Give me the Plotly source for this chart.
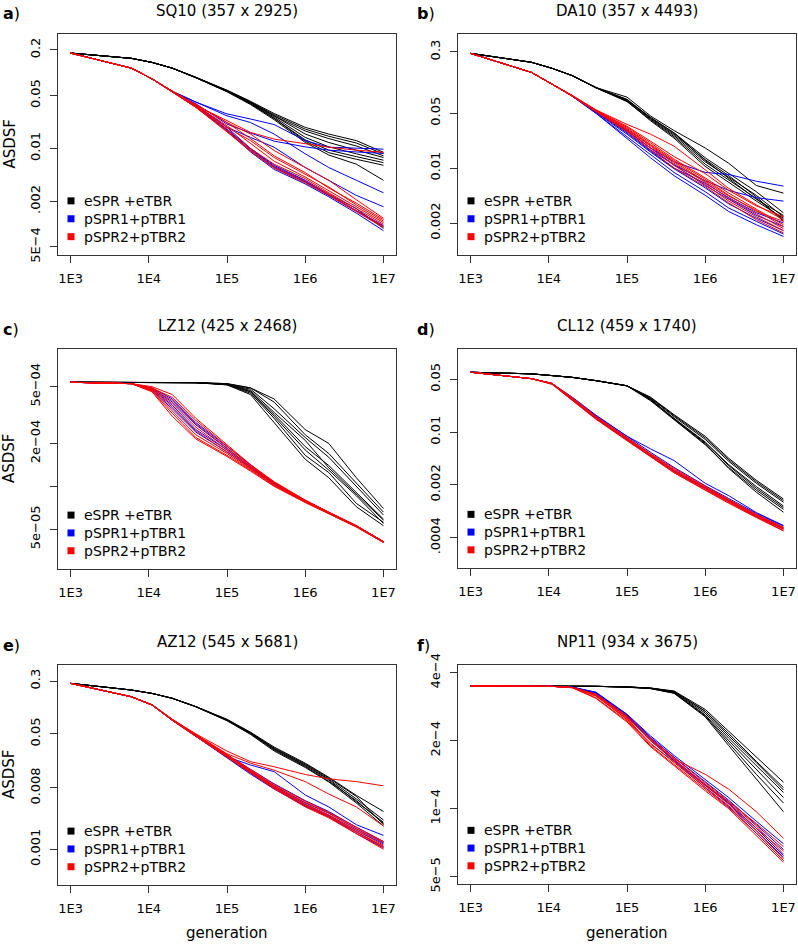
import plotly.graph_objects as go

# ---------------- data ----------------
GEN = [1e3, 6e3, 1.1e4, 2e4, 4e4, 1e5, 2e5, 4e5, 1e6, 2e6, 4.5e6, 1e7]
X_TICKS = [1e3, 1e4, 1e5, 1e6, 1e7]
X_TICKTEXT = ["1E3", "1E4", "1E5", "1E6", "1E7"]

SERIES_NAMES = ["eSPR +eTBR", "pSPR1+pTBR1", "pSPR2+pTBR2"]
SERIES_COLORS = ["#000000", "#0000FF", "#FF0000"]

PANEL_LABELS = ["a", "b", "c", "d", "e", "f"]
PANEL_TITLES = ["SQ10 (357 x 2925)", "DA10 (357 x 4493)", "LZ12 (425 x 2468)",
                "CL12 (459 x 1740)", "AZ12 (545 x 5681)", "NP11 (934 x 3675)"]

# ---- a) SQ10
SQ10_E = [
    [0.182, 0.155, 0.137, 0.115, 0.087, 0.059, 0.042, 0.029, 0.019, 0.0155, 0.0127, 0.0089],
    [0.182, 0.155, 0.137, 0.115, 0.087, 0.058, 0.041, 0.028, 0.018, 0.0145, 0.0118, 0.0085],
    [0.182, 0.155, 0.137, 0.115, 0.087, 0.058, 0.041, 0.027, 0.017, 0.0135, 0.0108, 0.0080],
    [0.182, 0.155, 0.137, 0.115, 0.087, 0.058, 0.040, 0.027, 0.0155, 0.0120, 0.0095, 0.0076],
    [0.182, 0.155, 0.137, 0.115, 0.086, 0.057, 0.040, 0.026, 0.0140, 0.0105, 0.0085, 0.0070],
    [0.182, 0.155, 0.137, 0.115, 0.086, 0.057, 0.039, 0.025, 0.0130, 0.0095, 0.0078, 0.0065],
    [0.182, 0.155, 0.137, 0.115, 0.086, 0.057, 0.039, 0.025, 0.0125, 0.0088, 0.0072, 0.0060],
    [0.182, 0.155, 0.137, 0.115, 0.086, 0.056, 0.038, 0.024, 0.0120, 0.0082, 0.0062, 0.0038],
]
SQ10_P1 = [
    [0.182, 0.115, 0.083, 0.057, 0.041, 0.0286, 0.0245, 0.0207, 0.0127, 0.0104, 0.0101, 0.0098],
    [0.182, 0.115, 0.083, 0.057, 0.041, 0.027, 0.022, 0.0155, 0.0085, 0.0056, 0.0038, 0.0026],
    [0.182, 0.115, 0.083, 0.057, 0.038, 0.019, 0.014, 0.0104, 0.0056, 0.0038, 0.0024, 0.0017],
    [0.182, 0.115, 0.083, 0.057, 0.039, 0.021, 0.016, 0.0125, 0.0105, 0.0095, 0.0090, 0.0086],
    [0.182, 0.115, 0.083, 0.056, 0.036, 0.0176, 0.0094, 0.0056, 0.0036, 0.0024, 0.0015, 0.00096],
    [0.182, 0.115, 0.083, 0.056, 0.037, 0.019, 0.0100, 0.0060, 0.0038, 0.0025, 0.0016, 0.00088],
    [0.182, 0.115, 0.083, 0.056, 0.035, 0.017, 0.0090, 0.0053, 0.0034, 0.0023, 0.0014, 0.00082],
    [0.182, 0.115, 0.083, 0.056, 0.036, 0.018, 0.0098, 0.0058, 0.0037, 0.0024, 0.0015, 0.00092],
]
SQ10_P2 = [
    [0.182, 0.115, 0.083, 0.057, 0.037, 0.0233, 0.0163, 0.0133, 0.0115, 0.0104, 0.0095, 0.0089],
    [0.182, 0.115, 0.083, 0.057, 0.038, 0.022, 0.0155, 0.0094, 0.0056, 0.0038, 0.0021, 0.0012],
    [0.182, 0.115, 0.083, 0.057, 0.036, 0.019, 0.0127, 0.0076, 0.0046, 0.0031, 0.0018, 0.0011],
    [0.182, 0.115, 0.083, 0.056, 0.036, 0.018, 0.0100, 0.0062, 0.0040, 0.0026, 0.0016, 0.0010],
    [0.182, 0.115, 0.083, 0.056, 0.035, 0.017, 0.0095, 0.0057, 0.0037, 0.0025, 0.0015, 0.00094],
    [0.182, 0.115, 0.083, 0.057, 0.037, 0.020, 0.0115, 0.0068, 0.0042, 0.0028, 0.0017, 0.00105],
    [0.182, 0.115, 0.083, 0.056, 0.035, 0.0165, 0.0092, 0.0055, 0.0035, 0.0024, 0.00145, 0.00090],
    [0.182, 0.115, 0.083, 0.057, 0.038, 0.022, 0.0135, 0.0080, 0.0048, 0.0030, 0.0019, 0.00115],
]
SQ10_YTICKS = [0.2, 0.05, 0.01, 0.002, 0.0005]
SQ10_YTEXT = ["0.2", "0.05", "0.01", ".002", "5E\u22124"]

# ---- b) DA10
DA10_E = [
    [0.288, 0.222, 0.186, 0.150, 0.106, 0.080, 0.046, 0.030, 0.018, 0.0115, 0.0060, 0.0048],
    [0.288, 0.222, 0.186, 0.150, 0.106, 0.075, 0.044, 0.028, 0.0135, 0.0085, 0.0050, 0.0027],
    [0.288, 0.222, 0.186, 0.150, 0.105, 0.072, 0.042, 0.026, 0.0120, 0.0076, 0.0045, 0.0024],
    [0.288, 0.222, 0.186, 0.150, 0.105, 0.070, 0.041, 0.025, 0.0112, 0.0070, 0.0041, 0.0022],
    [0.288, 0.222, 0.186, 0.150, 0.106, 0.074, 0.043, 0.027, 0.0128, 0.0080, 0.0043, 0.0021],
    [0.288, 0.222, 0.186, 0.150, 0.105, 0.071, 0.040, 0.024, 0.0105, 0.0066, 0.0038, 0.0023],
    [0.288, 0.222, 0.186, 0.150, 0.106, 0.073, 0.044, 0.028, 0.0125, 0.0074, 0.0040, 0.0025],
]
DA10_P1 = [
    [0.288, 0.165, 0.117, 0.083, 0.053, 0.030, 0.018, 0.0120, 0.0088, 0.0083, 0.0068, 0.0059],
    [0.288, 0.165, 0.117, 0.083, 0.052, 0.029, 0.017, 0.0110, 0.0069, 0.0052, 0.0042, 0.0038],
    [0.288, 0.165, 0.117, 0.082, 0.050, 0.025, 0.0145, 0.0088, 0.0050, 0.0031, 0.0021, 0.00145],
    [0.288, 0.165, 0.117, 0.082, 0.051, 0.027, 0.016, 0.0098, 0.0056, 0.0035, 0.0023, 0.0016],
    [0.288, 0.165, 0.117, 0.082, 0.050, 0.024, 0.0135, 0.0080, 0.0045, 0.0028, 0.0019, 0.00135],
    [0.288, 0.165, 0.117, 0.083, 0.052, 0.030, 0.018, 0.0110, 0.0060, 0.0040, 0.0025, 0.0018],
    [0.288, 0.165, 0.117, 0.083, 0.052, 0.028, 0.0165, 0.0100, 0.0064, 0.0042, 0.0027, 0.0020],
]
DA10_P2 = [
    [0.288, 0.165, 0.117, 0.084, 0.055, 0.036, 0.027, 0.019, 0.0095, 0.0055, 0.0034, 0.0022],
    [0.288, 0.165, 0.117, 0.083, 0.054, 0.033, 0.021, 0.013, 0.0075, 0.0048, 0.0030, 0.0019],
    [0.288, 0.165, 0.117, 0.083, 0.053, 0.031, 0.019, 0.0115, 0.0066, 0.0041, 0.0026, 0.0017],
    [0.288, 0.165, 0.117, 0.083, 0.053, 0.030, 0.018, 0.0108, 0.0062, 0.0038, 0.0024, 0.0016],
    [0.288, 0.165, 0.117, 0.083, 0.054, 0.032, 0.020, 0.0125, 0.0072, 0.0045, 0.0028, 0.0021],
    [0.288, 0.165, 0.117, 0.082, 0.052, 0.029, 0.017, 0.0100, 0.0058, 0.0036, 0.0022, 0.0015],
    [0.288, 0.165, 0.117, 0.084, 0.055, 0.034, 0.022, 0.0140, 0.0085, 0.0052, 0.0033, 0.0024],
    [0.288, 0.165, 0.117, 0.083, 0.053, 0.031, 0.0195, 0.0120, 0.0068, 0.0044, 0.0029, 0.0018],
]
DA10_YTICKS = [0.3, 0.05, 0.01, 0.002]
DA10_YTEXT = ["0.3", "0.05", "0.01", "0.002"]

# ---- c) LZ12
LZ12_E = [
    [5.37e-4, 5.37e-4, 5.37e-4, 5.36e-4, 5.34e-4, 5.25e-4, 4.9e-4, 4.1e-4, 2.5e-4, 2.0e-4, 1.15e-4, 7.0e-5],
    [5.37e-4, 5.37e-4, 5.37e-4, 5.36e-4, 5.33e-4, 5.2e-4, 4.8e-4, 3.5e-4, 2.2e-4, 1.6e-4, 1.0e-4, 6.3e-5],
    [5.37e-4, 5.37e-4, 5.37e-4, 5.36e-4, 5.33e-4, 5.2e-4, 4.6e-4, 3.2e-4, 1.9e-4, 1.4e-4, 9.0e-5, 5.9e-5],
    [5.37e-4, 5.37e-4, 5.37e-4, 5.36e-4, 5.33e-4, 5.15e-4, 4.5e-4, 3.0e-4, 1.65e-4, 1.25e-4, 7.6e-5, 5.6e-5],
    [5.37e-4, 5.37e-4, 5.37e-4, 5.36e-4, 5.33e-4, 5.15e-4, 4.4e-4, 2.8e-4, 1.55e-4, 1.15e-4, 7.2e-5, 5.3e-5],
    [5.37e-4, 5.37e-4, 5.37e-4, 5.36e-4, 5.33e-4, 5.2e-4, 4.7e-4, 3.3e-4, 2.1e-4, 1.35e-4, 8.8e-5, 5.8e-5],
    [5.37e-4, 5.37e-4, 5.37e-4, 5.36e-4, 5.34e-4, 5.25e-4, 4.9e-4, 3.9e-4, 2.3e-4, 1.7e-4, 1.05e-4, 6.6e-5],
    [5.37e-4, 5.37e-4, 5.37e-4, 5.36e-4, 5.33e-4, 5.2e-4, 4.6e-4, 3.1e-4, 1.8e-4, 1.3e-4, 8.6e-5, 5.5e-5],
]
LZ12_P1 = [
    [5.37e-4, 5.25e-4, 4.85e-4, 3.9e-4, 2.7e-4, 1.85e-4, 1.38e-4, 1.06e-4, 8.0e-5, 6.6e-5, 5.3e-5, 4.1e-5],
    [5.37e-4, 5.25e-4, 4.8e-4, 3.7e-4, 2.5e-4, 1.8e-4, 1.36e-4, 1.05e-4, 7.9e-5, 6.5e-5, 5.25e-5, 4.1e-5],
    [5.37e-4, 5.25e-4, 4.9e-4, 4.1e-4, 2.8e-4, 1.9e-4, 1.40e-4, 1.06e-4, 7.95e-5, 6.55e-5, 5.3e-5, 4.1e-5],
    [5.37e-4, 5.25e-4, 4.7e-4, 3.5e-4, 2.4e-4, 1.75e-4, 1.34e-4, 1.04e-4, 7.85e-5, 6.5e-5, 5.25e-5, 4.1e-5],
]
LZ12_P2 = [
    [5.37e-4, 5.25e-4, 4.9e-4, 4.2e-4, 2.9e-4, 1.9e-4, 1.40e-4, 1.07e-4, 8.0e-5, 6.6e-5, 5.3e-5, 4.1e-5],
    [5.37e-4, 5.25e-4, 4.8e-4, 3.8e-4, 2.6e-4, 1.8e-4, 1.36e-4, 1.05e-4, 7.9e-5, 6.5e-5, 5.25e-5, 4.1e-5],
    [5.37e-4, 5.25e-4, 4.7e-4, 3.4e-4, 2.3e-4, 1.7e-4, 1.32e-4, 1.02e-4, 7.8e-5, 6.5e-5, 5.2e-5, 4.05e-5],
    [5.37e-4, 5.25e-4, 4.6e-4, 3.1e-4, 2.15e-4, 1.62e-4, 1.28e-4, 1.0e-4, 7.7e-5, 6.4e-5, 5.2e-5, 4.05e-5],
    [5.37e-4, 5.25e-4, 5.0e-4, 4.4e-4, 3.0e-4, 1.95e-4, 1.42e-4, 1.08e-4, 8.0e-5, 6.6e-5, 5.3e-5, 4.1e-5],
    [5.37e-4, 5.25e-4, 4.75e-4, 3.6e-4, 2.45e-4, 1.75e-4, 1.34e-4, 1.03e-4, 7.85e-5, 6.5e-5, 5.25e-5, 4.1e-5],
    [5.37e-4, 5.25e-4, 4.65e-4, 3.25e-4, 2.2e-4, 1.65e-4, 1.30e-4, 1.01e-4, 7.75e-5, 6.45e-5, 5.2e-5, 4.05e-5],
    [5.37e-4, 5.25e-4, 4.85e-4, 4.0e-4, 2.75e-4, 1.85e-4, 1.38e-4, 1.06e-4, 7.9e-5, 6.55e-5, 5.3e-5, 4.1e-5],
]
LZ12_YTICKS = [5e-4, 2e-4, 1e-4, 5e-5]
LZ12_YTEXT = ["5e\u221204", "2e\u221204", "", "5e\u221205"]

# ---- d) CL12
CL12_E = [
    [0.062, 0.059, 0.056, 0.053, 0.048, 0.041, 0.029, 0.0170, 0.0088, 0.0045, 0.0023, 0.00130],
    [0.062, 0.059, 0.056, 0.053, 0.048, 0.041, 0.028, 0.0160, 0.0080, 0.0041, 0.0021, 0.00118],
    [0.062, 0.059, 0.056, 0.053, 0.048, 0.041, 0.027, 0.0152, 0.0074, 0.0037, 0.0019, 0.00105],
    [0.062, 0.059, 0.056, 0.053, 0.048, 0.041, 0.026, 0.0145, 0.0068, 0.0034, 0.0017, 0.00095],
    [0.062, 0.059, 0.056, 0.053, 0.048, 0.041, 0.0275, 0.0148, 0.0070, 0.0033, 0.0016, 0.00087],
    [0.062, 0.059, 0.056, 0.053, 0.048, 0.041, 0.0285, 0.0165, 0.0084, 0.0043, 0.0022, 0.00124],
    [0.062, 0.059, 0.056, 0.053, 0.048, 0.041, 0.0265, 0.0150, 0.0072, 0.0036, 0.0018, 0.00100],
]
CL12_P1 = [
    [0.062, 0.051, 0.044, 0.028, 0.0165, 0.0088, 0.0060, 0.0042, 0.0021, 0.00144, 0.00086, 0.00058],
    [0.062, 0.051, 0.044, 0.029, 0.0168, 0.0087, 0.0054, 0.0034, 0.00195, 0.00132, 0.00084, 0.00057],
    [0.062, 0.051, 0.044, 0.0275, 0.0158, 0.0082, 0.0050, 0.0031, 0.00185, 0.00125, 0.00080, 0.00054],
    [0.062, 0.051, 0.044, 0.0270, 0.0152, 0.0079, 0.0048, 0.0030, 0.00178, 0.00119, 0.00076, 0.00052],
]
CL12_P2 = [
    [0.062, 0.051, 0.044, 0.028, 0.0160, 0.0083, 0.0051, 0.0032, 0.00185, 0.00125, 0.00080, 0.00054],
    [0.062, 0.051, 0.044, 0.027, 0.0155, 0.0080, 0.0049, 0.0030, 0.00178, 0.00120, 0.00077, 0.00052],
    [0.062, 0.051, 0.043, 0.0265, 0.0150, 0.0078, 0.0048, 0.0029, 0.00172, 0.00116, 0.00075, 0.00050],
    [0.062, 0.051, 0.044, 0.0275, 0.0158, 0.0082, 0.0050, 0.0031, 0.00182, 0.00122, 0.00079, 0.00053],
    [0.062, 0.051, 0.043, 0.026, 0.0148, 0.0077, 0.0047, 0.0029, 0.00170, 0.00114, 0.00074, 0.00049],
    [0.062, 0.051, 0.044, 0.0285, 0.0162, 0.0084, 0.0052, 0.0033, 0.00190, 0.00128, 0.00082, 0.00055],
]
CL12_YTICKS = [0.05, 0.01, 0.002, 0.0004]
CL12_YTEXT = ["0.05", "0.01", "0.002", ".0004"]

# ---- e) AZ12
AZ12_E = [
    [0.277, 0.221, 0.197, 0.167, 0.126, 0.082, 0.053, 0.032, 0.0185, 0.0115, 0.0062, 0.0036],
    [0.277, 0.221, 0.197, 0.167, 0.126, 0.080, 0.051, 0.030, 0.0175, 0.0108, 0.0055, 0.0027],
    [0.277, 0.221, 0.197, 0.167, 0.125, 0.079, 0.050, 0.029, 0.0165, 0.0100, 0.0052, 0.0024],
    [0.277, 0.221, 0.197, 0.167, 0.126, 0.081, 0.052, 0.031, 0.0180, 0.0112, 0.0060, 0.0023],
    [0.277, 0.221, 0.197, 0.167, 0.125, 0.078, 0.049, 0.028, 0.0160, 0.0098, 0.0048, 0.0022],
    [0.277, 0.221, 0.197, 0.167, 0.126, 0.080, 0.052, 0.030, 0.0170, 0.0105, 0.0050, 0.0025],
]
AZ12_P1 = [
    [0.277, 0.176, 0.135, 0.082, 0.049, 0.0230, 0.0174, 0.0139, 0.0063, 0.0042, 0.0023, 0.0016],
    [0.277, 0.176, 0.133, 0.080, 0.047, 0.0235, 0.0138, 0.0082, 0.0046, 0.0032, 0.0019, 0.00120],
    [0.277, 0.176, 0.133, 0.079, 0.046, 0.0225, 0.0132, 0.0079, 0.0044, 0.0031, 0.0018, 0.00110],
    [0.277, 0.176, 0.133, 0.080, 0.047, 0.0240, 0.0142, 0.0086, 0.0048, 0.0034, 0.0020, 0.00125],
    [0.277, 0.176, 0.133, 0.079, 0.046, 0.0220, 0.0128, 0.0077, 0.0043, 0.0030, 0.0017, 0.00105],
    [0.277, 0.176, 0.134, 0.081, 0.048, 0.0245, 0.0150, 0.0092, 0.0052, 0.0036, 0.0021, 0.00130],
]
AZ12_P2 = [
    [0.277, 0.176, 0.134, 0.082, 0.050, 0.0279, 0.0195, 0.0164, 0.0126, 0.0109, 0.0099, 0.0086],
    [0.277, 0.176, 0.134, 0.081, 0.049, 0.0255, 0.0185, 0.0146, 0.0099, 0.0065, 0.0042, 0.0022],
    [0.277, 0.176, 0.133, 0.080, 0.047, 0.0240, 0.0140, 0.0084, 0.0046, 0.0032, 0.0019, 0.00115],
    [0.277, 0.176, 0.133, 0.079, 0.046, 0.0230, 0.0135, 0.0080, 0.0044, 0.0030, 0.0018, 0.00105],
    [0.277, 0.176, 0.133, 0.080, 0.047, 0.0245, 0.0145, 0.0087, 0.0049, 0.0034, 0.0020, 0.00125],
    [0.277, 0.176, 0.133, 0.079, 0.046, 0.0225, 0.0130, 0.0078, 0.0042, 0.0029, 0.0017, 0.00100],
    [0.277, 0.176, 0.133, 0.080, 0.048, 0.0250, 0.0150, 0.0090, 0.0051, 0.0035, 0.0021, 0.00130],
    [0.277, 0.176, 0.133, 0.080, 0.047, 0.0235, 0.0138, 0.0082, 0.0045, 0.0031, 0.0018, 0.00110],
]
AZ12_YTICKS = [0.3, 0.05, 0.008, 0.001]
AZ12_YTEXT = ["0.3", "0.05", "0.008", "0.001"]

# ---- f) NP11
NP11_E = [
    [3.49e-4, 3.49e-4, 3.49e-4, 3.49e-4, 3.48e-4, 3.46e-4, 3.42e-4, 3.32e-4, 2.75e-4, 2.20e-4, 1.70e-4, 1.31e-4],
    [3.49e-4, 3.49e-4, 3.49e-4, 3.49e-4, 3.48e-4, 3.46e-4, 3.42e-4, 3.30e-4, 2.70e-4, 2.15e-4, 1.62e-4, 1.24e-4],
    [3.49e-4, 3.49e-4, 3.49e-4, 3.49e-4, 3.48e-4, 3.46e-4, 3.41e-4, 3.28e-4, 2.65e-4, 2.05e-4, 1.55e-4, 1.18e-4],
    [3.49e-4, 3.49e-4, 3.49e-4, 3.49e-4, 3.48e-4, 3.46e-4, 3.41e-4, 3.27e-4, 2.60e-4, 2.00e-4, 1.50e-4, 1.12e-4],
    [3.49e-4, 3.49e-4, 3.49e-4, 3.49e-4, 3.48e-4, 3.45e-4, 3.40e-4, 3.25e-4, 2.58e-4, 1.95e-4, 1.42e-4, 1.06e-4],
    [3.49e-4, 3.49e-4, 3.49e-4, 3.49e-4, 3.48e-4, 3.45e-4, 3.40e-4, 3.24e-4, 2.55e-4, 1.90e-4, 1.35e-4, 0.97e-4],
    [3.49e-4, 3.49e-4, 3.49e-4, 3.49e-4, 3.48e-4, 3.46e-4, 3.42e-4, 3.30e-4, 2.70e-4, 2.10e-4, 1.60e-4, 1.21e-4],
]
NP11_P1 = [
    [3.49e-4, 3.49e-4, 3.48e-4, 3.45e-4, 3.28e-4, 2.62e-4, 2.10e-4, 1.72e-4, 1.34e-4, 1.12e-4, 8.8e-5, 7.0e-5],
    [3.49e-4, 3.49e-4, 3.48e-4, 3.45e-4, 3.26e-4, 2.60e-4, 2.07e-4, 1.69e-4, 1.31e-4, 1.09e-4, 8.5e-5, 6.6e-5],
    [3.49e-4, 3.49e-4, 3.48e-4, 3.45e-4, 3.25e-4, 2.57e-4, 2.03e-4, 1.65e-4, 1.28e-4, 1.06e-4, 8.2e-5, 6.2e-5],
    [3.49e-4, 3.49e-4, 3.48e-4, 3.45e-4, 3.27e-4, 2.60e-4, 2.05e-4, 1.62e-4, 1.24e-4, 1.02e-4, 7.8e-5, 5.9e-5],
    [3.49e-4, 3.49e-4, 3.48e-4, 3.44e-4, 3.22e-4, 2.55e-4, 2.00e-4, 1.63e-4, 1.27e-4, 1.05e-4, 8.0e-5, 6.1e-5],
]
NP11_P2 = [
    [3.49e-4, 3.49e-4, 3.48e-4, 3.44e-4, 3.20e-4, 2.55e-4, 2.00e-4, 1.65e-4, 1.28e-4, 1.07e-4, 8.4e-5, 6.3e-5],
    [3.49e-4, 3.49e-4, 3.48e-4, 3.44e-4, 3.15e-4, 2.50e-4, 1.95e-4, 1.60e-4, 1.24e-4, 1.03e-4, 8.0e-5, 6.0e-5],
    [3.49e-4, 3.49e-4, 3.48e-4, 3.43e-4, 3.10e-4, 2.45e-4, 1.90e-4, 1.57e-4, 1.22e-4, 1.01e-4, 7.8e-5, 5.9e-5],
    [3.49e-4, 3.49e-4, 3.48e-4, 3.44e-4, 3.18e-4, 2.52e-4, 2.02e-4, 1.66e-4, 1.42e-4, 1.22e-4, 9.7e-5, 7.4e-5],
    [3.49e-4, 3.49e-4, 3.48e-4, 3.43e-4, 3.08e-4, 2.42e-4, 1.88e-4, 1.55e-4, 1.20e-4, 1.00e-4, 7.6e-5, 5.8e-5],
    [3.49e-4, 3.49e-4, 3.48e-4, 3.44e-4, 3.22e-4, 2.58e-4, 2.05e-4, 1.68e-4, 1.30e-4, 1.08e-4, 8.6e-5, 6.8e-5],
    [3.49e-4, 3.49e-4, 3.48e-4, 3.44e-4, 3.17e-4, 2.48e-4, 1.93e-4, 1.62e-4, 1.26e-4, 1.05e-4, 8.2e-5, 6.5e-5],
]
NP11_YTICKS = [4e-4, 2e-4, 1e-4, 5e-5]
NP11_YTEXT = ["4e\u22124", "2e\u22124", "1e\u22124", "5e\u22125"]

# ---------------- layout helpers ----------------
W, H = 798, 944
FONT = "DejaVu Sans"
# plot boxes in pixels: (left, top, right, bottom)
BOXES = [(58, 34, 396, 255), (458, 34, 796, 255),
         (58, 349, 396, 569), (458, 349, 796, 568),
         (58, 665, 396, 885), (458, 665, 796, 884)]
Y_RANGES = [(-3.407, -0.488), (-3.106, -0.294), (-4.579, -3.037),
            (-3.799, -0.900), (-3.526, -0.287), (-4.333, -3.364)]
X_RANGE = (2.84, 7.16)

panels = [
    (SQ10_E, SQ10_P1, SQ10_P2, SQ10_YTICKS, SQ10_YTEXT),
    (DA10_E, DA10_P1, DA10_P2, DA10_YTICKS, DA10_YTEXT),
    (LZ12_E, LZ12_P1, LZ12_P2, LZ12_YTICKS, LZ12_YTEXT),
    (CL12_E, CL12_P1, CL12_P2, CL12_YTICKS, CL12_YTEXT),
    (AZ12_E, AZ12_P1, AZ12_P2, AZ12_YTICKS, AZ12_YTEXT),
    (NP11_E, NP11_P1, NP11_P2, NP11_YTICKS, NP11_YTEXT),
]

fig = go.Figure()
layout = dict(width=W, height=H, margin=dict(l=0, r=0, t=0, b=0, pad=0),
              autosize=False, template=go.layout.Template(),
              paper_bgcolor="white", plot_bgcolor="white", showlegend=False,
              hovermode=False,
              font=dict(family=FONT, size=13, color="black"))
annotations = []
shapes = []

for i, (grpE, grp1, grp2, yticks, ytext) in enumerate(panels):
    n = i + 1
    xa = "x" if n == 1 else f"x{n}"
    ya = "y" if n == 1 else f"y{n}"
    l, t, r, b = BOXES[i]
    axis_common = dict(showline=True, mirror=True, linecolor="#333", linewidth=1,
                       ticks="outside", ticklen=7, tickwidth=1, tickcolor="#333",
                       showgrid=False, zeroline=False, type="log", automargin=False,
                       tickfont=dict(family=FONT, size=13, color="black"))
    layout["xaxis" if n == 1 else f"xaxis{n}"] = dict(
        axis_common, domain=[l / W, r / W], range=list(X_RANGE), anchor=ya,
        tickvals=X_TICKS, ticktext=X_TICKTEXT, ticklabelstandoff=4)
    layout["yaxis" if n == 1 else f"yaxis{n}"] = dict(
        axis_common, domain=[1 - b / H, 1 - t / H], range=list(Y_RANGES[i]), anchor=xa,
        tickvals=yticks, ticktext=ytext, tickangle=-90, ticklabelstandoff=5)

    for grp, col in zip((grpE, grp1, grp2), SERIES_COLORS):
        for line in grp:
            fig.add_trace(go.Scatter(x=GEN, y=line, mode="lines", xaxis=xa, yaxis=ya,
                                     line=dict(color=col, width=1), hoverinfo="skip"))

    # legend (squares + labels) inside the panel
    bw, bh = r - l, b - t
    for k, (name, col) in enumerate(zip(SERIES_NAMES, SERIES_COLORS)):
        cy = 0.245 - 0.081 * k
        cx = 13.0 / bw
        hw, hh = 3.5 / bw, 3.5 / bh
        shapes.append(dict(type="rect", xref=f"{xa} domain", yref=f"{ya} domain",
                           x0=cx - hw, x1=cx + hw, y0=cy - hh, y1=cy + hh,
                           fillcolor=col, line=dict(width=0)))
        annotations.append(dict(xref=f"{xa} domain", yref=f"{ya} domain", x=24.0 / bw, y=cy,
                                xanchor="left", yanchor="middle", showarrow=False, text=name,
                                font=dict(family=FONT, size=14, color="black")))

    # title
    annotations.append(dict(xref="paper", yref="paper", x=(l + r) / 2 / W, y=1 - (t - 23) / H,
                            xanchor="center", yanchor="middle", showarrow=False,
                            text=PANEL_TITLES[i], font=dict(family=FONT, size=15, color="black")))
    # panel letter
    lx = 1 if i % 2 == 0 else 415
    annotations.append(dict(xref="paper", yref="paper", x=lx / W, y=1 - (t - 20) / H,
                            xanchor="left", yanchor="middle", showarrow=False,
                            text=f"<b>{PANEL_LABELS[i]}</b>)",
                            font=dict(family=FONT, size=16, color="black")))
    # y-axis title on left column
    if i % 2 == 0:
        annotations.append(dict(xref="paper", yref="paper", x=9 / W, y=1 - (t + b) / 2 / H,
                                xanchor="center", yanchor="middle", showarrow=False,
                                text="ASDSF", textangle=-90,
                                font=dict(family=FONT, size=15, color="black")))
    # x-axis title on bottom row
    if i >= 4:
        annotations.append(dict(xref="paper", yref="paper", x=(l + r) / 2 / W, y=1 - 933 / H,
                                xanchor="center", yanchor="middle", showarrow=False,
                                text="generation",
                                font=dict(family=FONT, size=15, color="black")))

layout["annotations"] = annotations
layout["shapes"] = shapes
fig.update_layout(**layout)
fig.write_html("out.html", config={"displayModeBar": False, "staticPlot": True},
               post_script="document.body.style.margin='0';document.body.style.overflow='hidden';")
